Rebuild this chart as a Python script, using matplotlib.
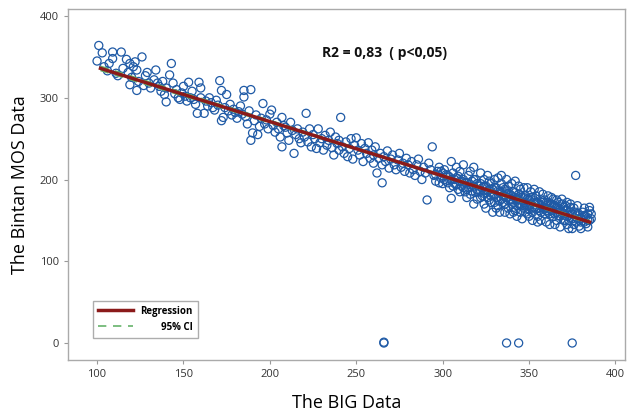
import numpy as np
import matplotlib.pyplot as plt

# points, grouped by x range
left_pts = [
    (101, 364), (100, 345), (103, 355), (104, 338), (106, 333), (107, 342), (109, 356), (109, 348),
    (111, 330), (112, 327), (114, 356), (115, 336), (117, 347), (118, 331), (119, 316), (120, 325),
    (121, 338), (119, 342), (122, 344), (123, 334), (123, 309), (124, 320), (126, 350), (127, 315),
    (128, 327), (129, 331), (130, 318), (131, 312), (133, 322), (134, 334), (135, 318), (136, 314),
    (137, 308), (138, 320), (139, 304), (140, 295), (140, 312), (142, 328), (143, 342), (144, 318),
    (145, 305), (146, 310), (147, 300), (148, 298), (149, 306), (150, 314), (151, 302), (152, 296),
    (153, 319), (154, 300), (155, 308), (156, 298), (157, 292), (158, 281), (159, 319), (160, 312),
    (160, 300), (162, 281), (163, 296), (164, 290), (165, 300), (166, 294), (167, 288), (168, 285),
    (169, 297), (170, 291), (171, 321), (172, 309), (172, 272), (173, 276), (174, 288), (175, 304),
    (176, 284), (177, 292), (178, 279), (179, 286), (180, 282), (181, 275), (182, 283), (183, 290),
    (184, 280), (185, 309), (185, 301), (186, 277), (187, 268), (188, 284), (189, 310), (189, 248),
    (190, 257), (191, 272), (192, 279), (193, 255), (194, 265), (195, 275), (196, 293), (197, 268),
    (198, 273), (199, 262), (200, 280),
]
mid_pts = [
    (201, 285), (202, 266), (203, 258), (204, 270), (205, 262), (206, 252), (207, 276), (207, 240),
    (208, 266), (209, 264), (210, 257), (211, 248), (212, 270), (213, 260), (214, 232), (215, 255),
    (216, 262), (217, 250), (218, 245), (219, 258), (220, 252), (221, 281), (222, 246), (223, 262),
    (224, 240), (225, 255), (226, 250), (227, 238), (228, 262), (229, 245), (230, 250), (231, 236),
    (232, 254), (233, 242), (234, 248), (235, 258), (236, 239), (237, 230), (238, 252), (239, 244),
    (240, 248), (240, 236), (241, 276), (242, 240), (243, 232), (244, 246), (245, 228), (246, 238),
    (247, 250), (248, 225), (249, 242), (250, 251), (251, 236), (252, 230), (253, 244), (254, 222),
    (255, 238), (256, 232), (257, 245), (258, 226), (259, 236), (260, 230), (260, 220), (261, 240),
    (262, 208), (263, 226), (264, 232), (265, 196), (265, 218), (266, 228), (267, 222), (268, 235),
    (269, 214), (270, 225), (271, 230), (272, 218), (273, 212), (274, 224), (275, 232), (276, 215),
    (277, 220), (278, 210), (279, 226), (280, 218), (281, 208), (282, 222), (283, 212), (284, 205),
    (285, 218), (286, 225), (287, 210), (288, 200), (289, 215), (290, 208), (291, 175), (292, 220),
    (293, 212), (294, 240), (295, 205), (296, 198), (297, 210), (298, 215), (299, 202), (300, 208),
    (300, 195),
]
right_pts = [
    (301, 212), (302, 198), (303, 205), (304, 190), (305, 177), (305, 200), (306, 208), (307, 195),
    (308, 202), (309, 188), (310, 198), (310, 210), (311, 192), (312, 200), (313, 185), (314, 196),
    (315, 205), (315, 190), (316, 182), (317, 198), (318, 192), (318, 170), (319, 200), (320, 188),
    (320, 195), (321, 185), (322, 195), (322, 178), (323, 190), (324, 170), (324, 183), (325, 192),
    (326, 186), (327, 175), (327, 198), (328, 180), (329, 188), (330, 172), (330, 182), (331, 190),
    (332, 168), (332, 178), (333, 185), (334, 195), (334, 176), (335, 180), (336, 170), (336, 188),
    (337, 178), (338, 165), (338, 183), (339, 175), (340, 180), (340, 170), (341, 185), (341, 172),
    (342, 162), (342, 178), (343, 168), (344, 175), (344, 182), (345, 160), (345, 170), (346, 178),
    (347, 165), (347, 172), (348, 180), (349, 158), (349, 168), (350, 175), (350, 163), (351, 170),
    (352, 160), (352, 178), (353, 166), (354, 172), (355, 155), (355, 165), (356, 170), (357, 160),
    (357, 175), (358, 165), (359, 158), (360, 168), (360, 162), (361, 172), (362, 158), (362, 165),
    (363, 170), (364, 155), (364, 162), (365, 168), (366, 150), (366, 160), (367, 165), (368, 155),
    (369, 170), (370, 158), (371, 150), (371, 162), (372, 145), (373, 156), (374, 160), (375, 140),
    (375, 152), (376, 165), (377, 205), (377, 148), (378, 158), (379, 143), (380, 152), (381, 160),
    (382, 148), (383, 155), (384, 150), (385, 162), (386, 152), (386, 158),
]
dense_pts = [
    (296, 206), (298, 196), (299, 210), (301, 200), (302, 206), (303, 196), (304, 203), (306, 192),
    (307, 200), (308, 194), (309, 204), (311, 198), (312, 190), (313, 196), (314, 188), (316, 194),
    (317, 186), (318, 200), (319, 184), (321, 192), (322, 186), (323, 180), (324, 192), (325, 184),
    (326, 178), (327, 188), (328, 172), (329, 182), (330, 190), (331, 178), (332, 186), (333, 174),
    (334, 184), (335, 172), (336, 180), (337, 186), (338, 174), (339, 182), (340, 176), (341, 166),
    (342, 184), (343, 176), (344, 170), (345, 180), (346, 168), (347, 178), (348, 170), (349, 176),
    (350, 168), (351, 178), (352, 166), (353, 174), (354, 164), (355, 172), (356, 162), (357, 168),
    (358, 172), (359, 164), (360, 172), (361, 160), (362, 170), (363, 162), (364, 168), (365, 158),
    (366, 166), (367, 156), (368, 164), (369, 160), (370, 166), (371, 156), (372, 162), (373, 150),
    (374, 166), (375, 158), (376, 150), (377, 160), (378, 152), (379, 156), (380, 148), (381, 154),
    (382, 156), (383, 146), (384, 158), (385, 150),
]
wide_pts = [
    (305, 222), (308, 215), (310, 185), (312, 218), (314, 178), (316, 210), (318, 215), (320, 176),
    (322, 208), (324, 200), (325, 165), (326, 205), (328, 195), (329, 160), (330, 200), (331, 165),
    (332, 202), (333, 160), (334, 205), (335, 190), (336, 160), (337, 200), (338, 192), (339, 158),
    (340, 195), (341, 160), (342, 198), (343, 155), (344, 192), (345, 188), (346, 152), (347, 190),
    (348, 160), (349, 190), (350, 155), (351, 185), (352, 150), (353, 188), (354, 180), (355, 148),
    (356, 185), (357, 150), (358, 182), (359, 175), (360, 148), (361, 180), (362, 145), (363, 178),
    (364, 176), (365, 145), (366, 175), (367, 172), (368, 142), (369, 176), (370, 150), (371, 168),
    (372, 172), (373, 140), (374, 170), (376, 145), (378, 168), (380, 140), (382, 165), (384, 142),
    (385, 166),
]
zero_pts = [(266, 0), (266, 1), (337, 0), (344, 0), (375, 0)]

# regression line (y at x=100 is 337, at x=385 is 148)
reg_x = [102, 385]
reg_y = [336, 148]

pts = np.array(left_pts + mid_pts + right_pts + dense_pts + wide_pts + zero_pts, dtype=float)
x, y = pts[:, 0], pts[:, 1]

# CI band around the read line, from the spread of the main cloud
slope = (reg_y[1] - reg_y[0]) / (reg_x[1] - reg_x[0])
main = y > 50
res = y[main] - (reg_y[0] + slope * (x[main] - reg_x[0]))
n = main.sum()
s = np.sqrt(np.sum(res ** 2) / (n - 2))
xm = x[main].mean()
sxx = np.sum((x[main] - xm) ** 2)
xs = np.linspace(reg_x[0], reg_x[1], 100)
ys = reg_y[0] + slope * (xs - reg_x[0])
half = 1.96 * s * np.sqrt(1 / n + (xs - xm) ** 2 / sxx)

plt.rcParams['font.family'] = ['Open Sans', 'DejaVu Sans']

fig = plt.figure(figsize=(6.27, 4.16), dpi=100)
ax = fig.add_axes([0.1085, 0.1346, 0.889, 0.8437])

ax.scatter(x, y, s=34, facecolors='none', edgecolors='#1f5aa6', linewidths=0.9, zorder=2)
ax.plot(xs, ys + half, color='#66b36b', lw=1.2, ls=(0, (5, 4)), zorder=3, label='        95% CI')
ax.plot(xs, ys - half, color='#66b36b', lw=1.2, ls=(0, (5, 4)), zorder=3)
ax.plot(reg_x, reg_y, color='#8b1a1a', lw=2.5, zorder=4, label='Regression')

handles, labels = ax.get_legend_handles_labels()
leg = ax.legend(handles[::-1], labels[::-1], loc='lower left', bbox_to_anchor=(0.036, 0.05),
                prop={'weight': 'bold', 'size': 7}, frameon=True, fancybox=False,
                edgecolor='#999999', handlelength=3.6, borderpad=0.5, labelspacing=0.5)
leg.get_frame().set_linewidth(1.0)

ax.text(230, 355, 'R2 = 0,83  ( p<0,05)', fontsize=10, fontweight='bold', va='center', color='#111111')

ax.set_xlim(83.2, 405.8)
ax.set_ylim(-20.8, 408.6)
ax.set_xticks([100, 150, 200, 250, 300, 350, 400])
ax.set_yticks([0, 100, 200, 300, 400])
ax.tick_params(labelsize=8, colors='#333333', length=3, width=0.8)
ax.tick_params(color='#999999')
for sp in ax.spines.values():
    sp.set_color('#aaaaaa')
    sp.set_linewidth(1.0)

ax.set_xlabel('The BIG Data', fontsize=13, labelpad=10)
ax.set_ylabel('The Bintan MOS Data', fontsize=13, labelpad=8)

fig.savefig('out.png', dpi=100)
